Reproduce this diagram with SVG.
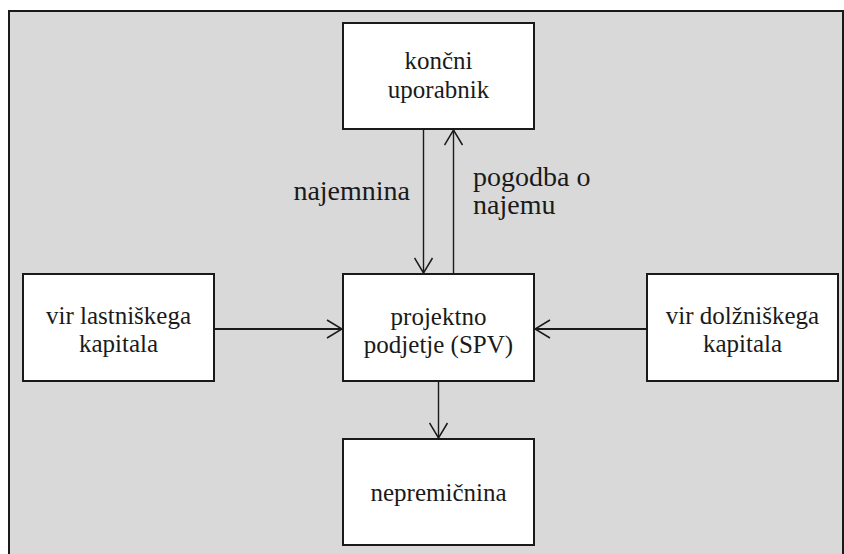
<svg xmlns="http://www.w3.org/2000/svg" width="844" height="554" viewBox="0 0 844 554">
<defs>
<style>
.box{fill:#ffffff;stroke:#1a1a1a;stroke-width:2}
.t{font-family:"Liberation Serif","Times New Roman",serif;font-size:25px;fill:#1a1a1a;text-anchor:middle}
.lbl{font-family:"Liberation Serif","Times New Roman",serif;font-size:28px;fill:#1a1a1a}
.c{fill:none;stroke:#1a1a1a;stroke-width:1.4}
.ch{fill:none;stroke:#1a1a1a;stroke-width:2}
</style>
<marker id="ah" viewBox="0 0 17 20" refX="16" refY="10" markerWidth="17" markerHeight="20" markerUnits="userSpaceOnUse" orient="auto">
<path d="M1,1 L16,10 L1,19" fill="none" stroke="#1a1a1a" stroke-width="1.5"/>
</marker>
</defs>
<rect x="9" y="11" width="834" height="560" fill="#d9d9d9" stroke="#1a1a1a" stroke-width="2"/>
<g id="connectors">
<line class="c" x1="423.5" y1="129" x2="423.5" y2="273" marker-end="url(#ah)"/>
<line class="c" x1="453.5" y1="274" x2="453.5" y2="130" marker-end="url(#ah)"/>
<line class="ch" x1="214" y1="329" x2="342" y2="329" marker-end="url(#ah)"/>
<line class="ch" x1="647" y1="329" x2="535" y2="329" marker-end="url(#ah)"/>
<line class="c" x1="438.5" y1="381" x2="438.5" y2="438" marker-end="url(#ah)"/>
<text class="lbl" x="410" y="200" text-anchor="end">najemnina</text>
<text class="lbl" x="473" y="186">pogodba o</text>
<text class="lbl" x="473" y="214">najemu</text>
</g>
<g id="koncni">
<rect class="box" x="343" y="23" width="191" height="106"/>
<text class="t" x="438.5" y="69">končni</text>
<text class="t" x="438.5" y="98">uporabnik</text>
</g>
<g id="spv">
<rect class="box" x="343" y="274" width="191" height="107"/>
<text class="t" x="438.5" y="325">projektno</text>
<text class="t" x="438.5" y="353">podjetje (SPV)</text>
</g>
<g id="lastniski">
<rect class="box" x="23" y="274" width="191" height="107"/>
<text class="t" x="118.5" y="324">vir lastniškega</text>
<text class="t" x="118.5" y="352">kapitala</text>
</g>
<g id="dolzniski">
<rect class="box" x="647" y="274" width="191" height="107"/>
<text class="t" x="742.5" y="324">vir dolžniškega</text>
<text class="t" x="742.5" y="352">kapitala</text>
</g>
<g id="nepremicnina">
<rect class="box" x="343" y="439" width="191" height="106"/>
<text class="t" x="438.5" y="501">nepremičnina</text>
</g>
</svg>
